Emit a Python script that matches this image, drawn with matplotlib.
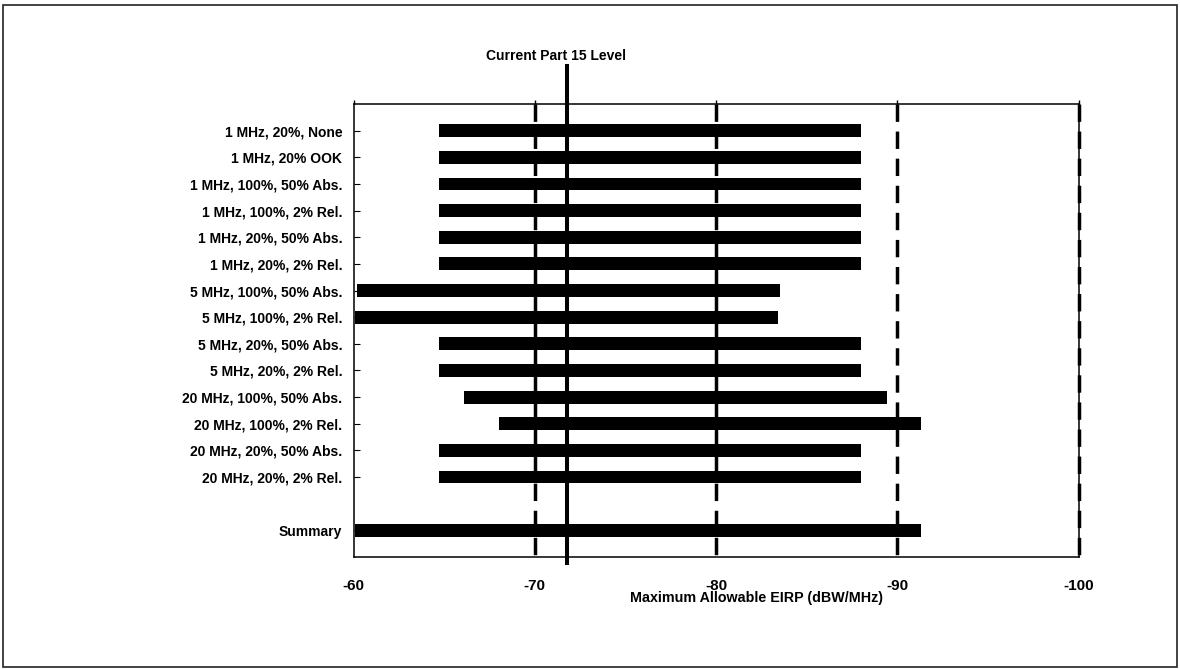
import matplotlib.pyplot as plt
from matplotlib.patches import Rectangle

# data
categories = [
    '1 MHz, 20%, None',
    '1 MHz, 20% OOK',
    '1 MHz, 100%, 50% Abs.',
    '1 MHz, 100%, 2% Rel.',
    '1 MHz, 20%, 50% Abs.',
    '1 MHz, 20%, 2% Rel.',
    '5 MHz, 100%, 50% Abs.',
    '5 MHz, 100%, 2% Rel.',
    '5 MHz, 20%, 50% Abs.',
    '5 MHz, 20%, 2% Rel.',
    '20 MHz, 100%, 50% Abs.',
    '20 MHz, 100%, 2% Rel.',
    '20 MHz, 20%, 50% Abs.',
    '20 MHz, 20%, 2% Rel.',
]
starts = [-64.7, -64.7, -64.7, -64.7, -64.7, -64.7, -60.2, -60.1,
          -64.7, -64.7, -66.1, -68.0, -64.7, -64.7]
ends = [-88.0, -88.0, -88.0, -88.0, -88.0, -88.0, -83.5, -83.4,
        -88.0, -88.0, -89.4, -91.3, -88.0, -88.0]
summary_label = 'Summary'
summary_start = -60.1
summary_end = -91.3
part15_level = -71.75
grid_levels = [-70, -80, -90, -100]
xticks = [-60, -70, -80, -90, -100]

plt.rcParams['font.family'] = ['Liberation Sans', 'DejaVu Sans']
plt.rcParams['font.weight'] = 'bold'

W, H = 1180, 669
fig = plt.figure(figsize=(W / 100, H / 100), dpi=100)
ax = fig.add_axes([353.5 / W, 1 - 557 / H, (1078.7 - 353.5) / W, (557 - 104) / H])

# outer frame
fig.patches.append(Rectangle((3 / W, 2 / H), 1174 / W, 662 / H, transform=fig.transFigure,
                             fill=False, edgecolor='#222222', linewidth=1.2))

# dashed reference lines
for x in grid_levels:
    ax.plot([x, x], [-1, 16], color='black', lw=2.5, linestyle=(0, (5.0, 2.8)),
            clip_on=False, zorder=1)

ypos = list(range(len(categories))) + [len(categories) + 1]
lefts = starts + [summary_start]
rights = ends + [summary_end]
widths = [r - l for l, r in zip(lefts, rights)]
ax.barh(ypos, widths, left=lefts, height=0.48, color='black', zorder=2)

# current Part 15 level
ax.axvline(part15_level, ymin=-0.013, ymax=1.084, color='black', lw=2.9, clip_on=False, zorder=3)
fig.text(556 / W, 1 - 56 / H, 'Current Part 15 Level', ha='center', va='center',
         fontsize=10, fontweight='bold')

ax.set_xlim(-60, -100)
ax.set_ylim(len(categories) + 2, -1)
ax.set_xticks(xticks)
ax.set_xticklabels([str(t) for t in xticks], fontsize=11, fontweight='bold')
ax.set_yticks(ypos)
ax.set_yticklabels(categories + [summary_label], fontsize=10, fontweight='bold')
ax.tick_params(axis='x', bottom=False, top=True, labelbottom=True, direction='out',
               length=3, width=1, pad=12.5)
ax.tick_params(axis='y', direction='in', length=4, width=0.8, pad=8)
for s in ax.spines.values():
    s.set_linewidth(1.1)

fig.text(757 / W, 1 - 598 / H, 'Maximum Allowable EIRP (dBW/MHz)', ha='center', va='center',
         fontsize=10.3, fontweight='bold')

fig.savefig('out.png', dpi=100)
